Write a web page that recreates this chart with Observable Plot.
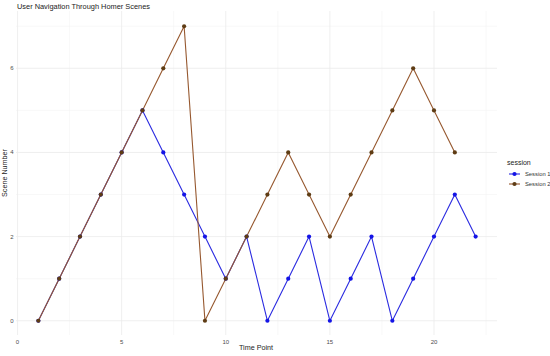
<!DOCTYPE html>
<html><head><meta charset="utf-8">
<script src="https://cdn.jsdelivr.net/npm/d3@7"></script>
<script src="https://cdn.jsdelivr.net/npm/@observablehq/plot@0.6"></script>
<style>
body{margin:0;background:#fff;font-family:"Liberation Sans",Arial,sans-serif;}
#chart{position:relative;width:550px;height:356px;}
</style>
</head><body><div id="chart"></div>
<script>
const timeS1 = [1,2,3,4,5,6,7,8,9,10,11,12,13,14,15,16,17,18,19,20,21,22];
const sceneS1 = [0,1,2,3,4,5,4,3,2,1,2,0,1,2,0,1,2,0,1,2,3,2];
const timeS2 = [1,2,3,4,5,6,7,8,9,10,11,12,13,14,15,16,17,18,19,20,21];
const sceneS2 = [0,1,2,3,4,5,6,7,0,1,2,3,4,3,2,3,4,5,6,5,4];
const sessions = ["Session 1","Session 2"];
const lineColors = ["#2b2be0","#96582f"];
const dotColors = ["#1414e6","#5e3c14"];
const xMajor = [0,5,10,15,20];
const xMinor = [2.5,7.5,12.5,17.5,22.5];
const yMajor = [0,2,4,6];
const yMinor = [1,3,5,7];
const title = "User Navigation Through Homer Scenes";
const xTitle = "Time Point";
const yTitle = "Scene Number";
const legendTitle = "session";

const data = [
  ...timeS1.map((t,i)=>({time:t, scene:sceneS1[i], session:sessions[0]})),
  ...timeS2.map((t,i)=>({time:t, scene:sceneS2[i], session:sessions[1]}))
];
const s1 = data.filter(d=>d.session===sessions[0]);
const s2 = data.filter(d=>d.session===sessions[1]);

const plot = Plot.plot({
  width: 550, height: 356,
  marginLeft: 16, marginRight: 53, marginTop: 11, marginBottom: 21,
  style: {fontFamily: "Liberation Sans, Arial, sans-serif", background: "#fff"},
  x: {domain: [-0.05, 23.05]},
  y: {domain: [-0.35, 7.35]},
  marks: [
    Plot.ruleX(xMinor, {stroke: "#f3f3f3", strokeWidth: 0.6}),
    Plot.ruleY(yMinor, {stroke: "#f3f3f3", strokeWidth: 0.6}),
    Plot.ruleX(xMajor, {stroke: "#ebebeb", strokeWidth: 0.8}),
    Plot.ruleY(yMajor, {stroke: "#ebebeb", strokeWidth: 0.8}),
    Plot.axisX(xMajor, {tickSize: 0, tickPadding: 4, fontSize: 6, fill: "#4d4d4d", label: null}),
    Plot.axisY(yMajor, {tickSize: 0, tickPadding: 3, fontSize: 6, fill: "#4d4d4d", label: null}),
    Plot.line(s1, {x: "time", y: "scene", stroke: lineColors[0], strokeWidth: 1.1}),
    Plot.line(s2, {x: "time", y: "scene", stroke: lineColors[1], strokeWidth: 1.1}),
    Plot.dot(s1, {x: "time", y: "scene", fill: dotColors[0], r: 2.1}),
    Plot.dot(s2, {x: "time", y: "scene", fill: dotColors[1], r: 2.1})
  ]
});
document.getElementById("chart").appendChild(plot);

const svg = d3.select(plot);
// titles
svg.append("text").attr("x", 17).attr("y", 9).attr("text-anchor", "start").attr("font-size", 7.4).attr("fill", "#222").text(title);
svg.append("text").attr("x", 256).attr("y", 350).attr("text-anchor", "middle").attr("font-size", 7.2).attr("fill", "#222").text(xTitle);
svg.append("text").attr("transform", "translate(7,173) rotate(-90)").attr("text-anchor", "middle").attr("font-size", 7.2).attr("fill", "#222").text(yTitle);
// legend
const lg = svg.append("g").attr("transform", "translate(507,0)").attr("text-anchor", "start");
lg.append("text").attr("x", 0).attr("y", 165).attr("font-size", 7).attr("fill", "#222").text(legendTitle);
sessions.forEach((s,i)=>{
  const y = 174 + i*10;
  lg.append("line").attr("x1", 2).attr("x2", 13).attr("y1", y).attr("y2", y).attr("stroke", lineColors[i]).attr("stroke-width", 1.1);
  lg.append("circle").attr("cx", 7.5).attr("cy", y).attr("r", 2.1).attr("fill", dotColors[i]);
  lg.append("text").attr("x", 18).attr("y", y + 2).attr("font-size", 5.8).attr("fill", "#333").text(s);
});
</script>
</body></html>
